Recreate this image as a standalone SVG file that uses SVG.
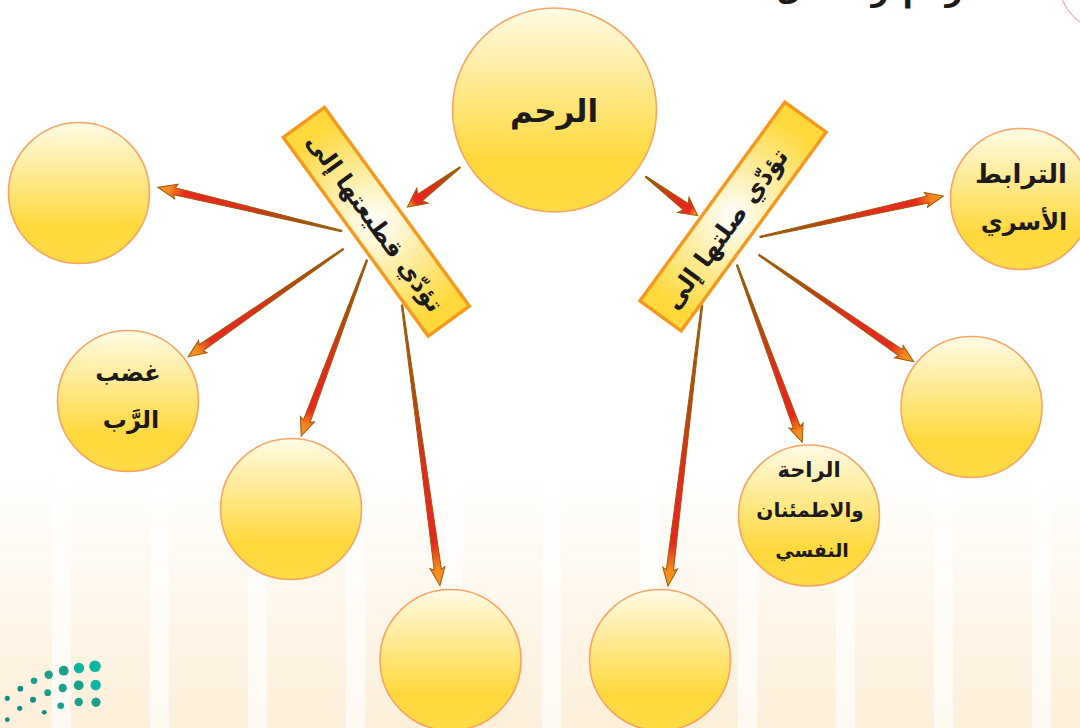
<svg xmlns="http://www.w3.org/2000/svg" width="1080" height="728" viewBox="0 0 1080 728">
<style>
.c{fill:url(#ball);stroke:#f7a561;stroke-width:1.6}
.b{fill:url(#band);stroke:#f7981e;stroke-width:3.4}
.a{fill:url(#arr);stroke:#9c5a0c;stroke-width:1;stroke-linejoin:miter}
text{font-family:"DejaVu Sans","Noto Sans",sans-serif;font-weight:700;fill:#1c1a1b;direction:rtl;text-anchor:middle}
.s{fill:#fff;fill-opacity:.65}
.d1{fill:#0ab5a2}.d2{fill:#1ba08b}.d3{fill:#128f86}
</style>
<defs>
<linearGradient id="bg" x1="0" y1="0" x2="0" y2="1"><stop offset="0" stop-color="#fff"/><stop offset="1" stop-color="#fdefd9"/></linearGradient>
<linearGradient id="ball" x1="0" y1="0" x2="0" y2="1"><stop offset="0" stop-color="#fffbe6"/><stop offset=".74" stop-color="#ffd93c"/><stop offset="1" stop-color="#ffdb45"/></linearGradient>
<radialGradient id="band" gradientUnits="userSpaceOnUse" cx="0" cy="0" r="106"><stop offset="0" stop-color="#fff"/><stop offset="1" stop-color="#ffd93c"/></radialGradient>
<linearGradient id="arr" x1="0" y1="0" x2="1" y2="0"><stop offset="0" stop-color="#9a5a08"/><stop offset=".25" stop-color="#a8500c"/><stop offset=".6" stop-color="#e6281f"/><stop offset=".85" stop-color="#e6281f"/><stop offset=".94" stop-color="#f58a1e"/><stop offset="1" stop-color="#f7981e"/></linearGradient>
</defs>
<rect width="1080" height="728" fill="#fff"/>
<rect y="470" width="1080" height="258" fill="url(#bg)"/>
<g id="stripes">
<rect class="s" x="52" y="470" width="19" height="258"/><rect class="s" x="150" y="470" width="19" height="258"/><rect class="s" x="248" y="470" width="19" height="258"/><rect class="s" x="346" y="470" width="19" height="258"/><rect class="s" x="444" y="470" width="19" height="258"/><rect class="s" x="542" y="470" width="19" height="258"/><rect class="s" x="640" y="470" width="19" height="258"/><rect class="s" x="738" y="470" width="19" height="258"/><rect class="s" x="836" y="470" width="19" height="258"/><rect class="s" x="934" y="470" width="19" height="258"/><rect class="s" x="1032" y="470" width="19" height="258"/>
</g>
<circle id="corner" cx="1108" cy="-18" r="49" fill="none" stroke="#f08a96" stroke-width="1"/>
<g id="top-text" font-size="30">
<text x="954" y="1">ر</text><text x="914" y="1">م</text><text x="880" y="1">ر</text><text x="830" y="-9">ي</text><text x="790" y="-2">ق</text>
</g>
<g id="logo">
<circle class="d1" cx="95" cy="666.3" r="5.8"/><circle class="d1" cx="79" cy="668" r="5.2"/><circle class="d2" cx="63.7" cy="670.7" r="4.9"/><circle class="d2" cx="48.7" cy="674.7" r="4.2"/><circle class="d2" cx="34" cy="680.7" r="3.3"/><circle class="d3" cx="20.3" cy="688.7" r="2.9"/><circle class="d3" cx="7.3" cy="698.3" r="2.6"/>
<circle class="d1" cx="95.7" cy="685" r="5.2"/><circle class="d2" cx="78.7" cy="685.3" r="4.9"/><circle class="d2" cx="62.7" cy="688" r="4.2"/><circle class="d2" cx="47.7" cy="692.7" r="3.4"/><circle class="d3" cx="33" cy="699.7" r="3"/><circle class="d3" cx="19.7" cy="708.3" r="2.6"/><circle class="d3" cx="7.3" cy="719.7" r="2.4"/>
<circle class="d2" cx="96" cy="702.3" r="4.6"/><circle class="d2" cx="78.7" cy="702" r="4.2"/><circle class="d2" cx="60.7" cy="705.7" r="3.3"/><circle class="d3" cx="44.3" cy="712.3" r="2.4"/>
</g>
<g id="connectors">
<polygon class="a" transform="translate(460,167.3) rotate(142.9)" points="0,-.6 50,-4 47,-9.5 66,0 47,9.5 50,4 0,.6"/>
<polygon class="a" transform="translate(645.7,176.7) rotate(36.9)" points="0,-.6 50,-4 47,-9.5 65,0 47,9.5 50,4 0,.6"/>
<polygon class="a" transform="translate(341.7,231) rotate(193.4)" points="0,-.7 172,-3.6 170,-7.5 189,0 170,7.5 172,3.6 0,.7"/>
<polygon class="a" transform="translate(343.3,249) rotate(145.2)" points="0,-.7 173,-3.6 171,-7.5 189,0 171,7.5 173,3.6 0,.7"/>
<polygon class="a" transform="translate(367,260) rotate(110.5)" points="0,-.7 172,-3.6 170,-7.5 188,0 170,7.5 172,3.6 0,.7"/>
<polygon class="a" transform="translate(402,305) rotate(82.3)" points="0,-.7 267,-3.6 265,-7.5 283,0 265,7.5 267,3.6 0,.7"/>
<polygon class="a" transform="translate(702,305) rotate(96.9)" points="0,-.7 267,-3.6 265,-7.5 283,0 265,7.5 267,3.6 0,.7"/>
<polygon class="a" transform="translate(737,265) rotate(69.8)" points="0,-.7 173,-3.6 171,-7.5 189,0 171,7.5 173,3.6 0,.7"/>
<polygon class="a" transform="translate(759,255) rotate(34.6)" points="0,-.7 172,-3.6 170,-7.5 188,0 170,7.5 172,3.6 0,.7"/>
<polygon class="a" transform="translate(760,237) rotate(-12.6)" points="0,-.7 172,-3.6 170,-7.5 188,0 170,7.5 172,3.6 0,.7"/>
</g>
<g id="node-main"><circle class="c" cx="554.5" cy="110" r="102"/><text x="554" y="122" font-size="31">الرحم</text></g>
<g id="node-l1"><circle class="c" cx="79" cy="193" r="70.5"/></g>
<g id="node-l2"><circle class="c" cx="128" cy="401" r="70.5"/><text x="128" y="381" font-size="24">غضب</text><text x="131" y="428" font-size="24">الرَّب</text></g>
<g id="node-l3"><circle class="c" cx="291" cy="509" r="70.5"/></g>
<g id="node-l4"><circle class="c" cx="450.5" cy="660" r="70.5"/></g>
<g id="node-r4"><circle class="c" cx="660" cy="660" r="70.5"/></g>
<g id="node-r3"><circle class="c" cx="809" cy="515.5" r="70.5"/><text x="809" y="477" font-size="21">الراحة</text><text x="810" y="517" font-size="20">والاطمئنان</text><text x="812" y="557" font-size="19">النفسي</text></g>
<g id="node-r2"><circle class="c" cx="971.5" cy="407" r="70.5"/></g>
<g id="node-r1"><circle class="c" cx="1021" cy="199" r="70.5"/><text x="1021" y="183" font-size="26">الترابط</text><text x="1024" y="230" font-size="24">الأسري</text></g>
<g id="band-left" transform="translate(376.3,221.7) rotate(53.9)"><rect class="b" x="-123" y="-25.5" width="246" height="51"/><text x="0" y="10" font-size="24">تؤدّي قطيعتها إلى</text></g>
<g id="band-right" transform="translate(733,216.5) rotate(-53.9)"><rect class="b" x="-123" y="-25.5" width="246" height="51"/><text x="-14" y="10" font-size="25">تؤدّي صلتها إلى</text></g>
</svg>
